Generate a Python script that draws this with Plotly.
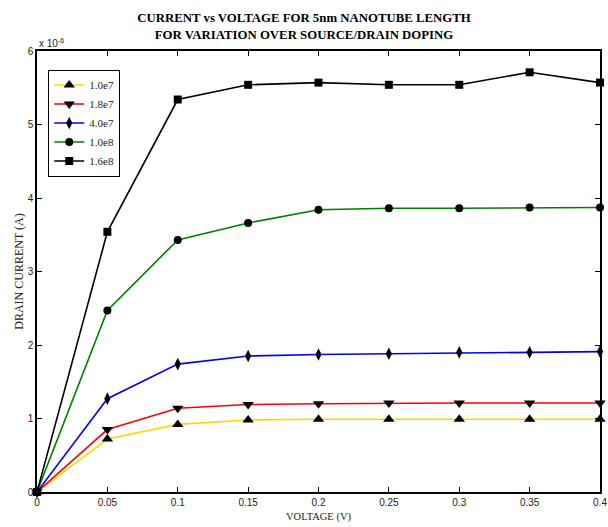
import plotly.graph_objects as go

voltage = [0, 0.05, 0.1, 0.15, 0.2, 0.25, 0.3, 0.35, 0.4]
doping_labels = ["1.0e7", "1.8e7", "4.0e7", "1.0e8", "1.6e8"]
i_1_0e7 = [0, 0.72, 0.92, 0.98, 0.99, 0.99, 0.99, 0.99, 0.99]
i_1_8e7 = [0, 0.85, 1.14, 1.19, 1.20, 1.21, 1.21, 1.21, 1.21]
i_4_0e7 = [0, 1.27, 1.74, 1.85, 1.87, 1.88, 1.90, 1.90, 1.91]
i_1_0e8 = [0, 2.47, 3.43, 3.66, 3.84, 3.86, 3.86, 3.87, 3.87]
i_1_6e8 = [0, 3.54, 5.34, 5.54, 5.57, 5.54, 5.54, 5.71, 5.57]
x_ticks = [0, 0.05, 0.1, 0.15, 0.2, 0.25, 0.3, 0.35, 0.4]
x_tick_text = ["0", "0.05", "0.1", "0.15", "0.2", "0.25", "0.3", "0.35", "0.4"]
y_ticks = [0, 1, 2, 3, 4, 5, 6]

series = [i_1_0e7, i_1_8e7, i_4_0e7, i_1_0e8, i_1_6e8]
colors = ["#FFD700", "#FF0000", "#0000FF", "#008000", "#000000"]
symbols = ["triangle-up", "triangle-down", "diamond-tall", "circle", "square"]
sizes = [10, 10, 9, 8, 8]

fig = go.Figure()
for lab, ys, c, s, sz in zip(doping_labels, series, colors, symbols, sizes):
    fig.add_trace(go.Scatter(
        x=voltage, y=ys, name=lab, mode="lines+markers",
        line=dict(color=c, width=1.6),
        marker=dict(symbol=s, size=sz, color="black"),
        cliponaxis=False,
    ))

axis_common = dict(
    showgrid=False, zeroline=False, showline=True, linecolor="black", linewidth=1.5,
    mirror="ticks", ticks="inside", ticklen=5, tickcolor="black", automargin=False,
    tickfont=dict(family="Liberation Sans, Arial", size=10, color="#222"),
)
fig.update_layout(
    width=608, height=527,
    paper_bgcolor="white", plot_bgcolor="white",
    margin=dict(l=37, r=8, t=51, b=35),
    title=dict(
        text="<b>CURRENT vs VOLTAGE FOR 5nm NANOTUBE LENGTH<br>FOR VARIATION OVER SOURCE/DRAIN DOPING</b>",
        x=0.5, xanchor="center", y=0.9575, yanchor="top", automargin=False,
        pad=dict(t=0, b=0),
        font=dict(family="Liberation Serif, Times New Roman", size=12.8, color="black"),
    ),
    xaxis=dict(range=[0, 0.4], tickvals=x_ticks, ticktext=x_tick_text,
               title=dict(text="VOLTAGE (V)", standoff=6,
                          font=dict(family="Liberation Serif", size=10.5, color="#222")),
               **axis_common),
    yaxis=dict(range=[0, 6], tickvals=y_ticks,
               title=dict(text="DRAIN CURRENT (A)", standoff=1,
                          font=dict(family="Liberation Serif", size=12, color="#222")),
               **axis_common),
    legend=dict(
        x=0.02, y=0.958, xanchor="left", yanchor="top",
        bgcolor="white", bordercolor="black", borderwidth=1,
        font=dict(family="Liberation Serif", size=11, color="#222"),
        tracegroupgap=0, itemwidth=30,
    ),
    showlegend=True,
)
fig.add_annotation(text="x 10<sup>-6</sup>", xref="paper", yref="paper", x=0, y=1.0,
                   xanchor="left", yanchor="bottom", showarrow=False,
                   font=dict(family="Liberation Sans", size=10, color="#222"))
fig.write_html(
    "out.html",
    config={"displayModeBar": False},
    post_script="document.body.style.margin='0';document.body.style.overflow='hidden';",
)
